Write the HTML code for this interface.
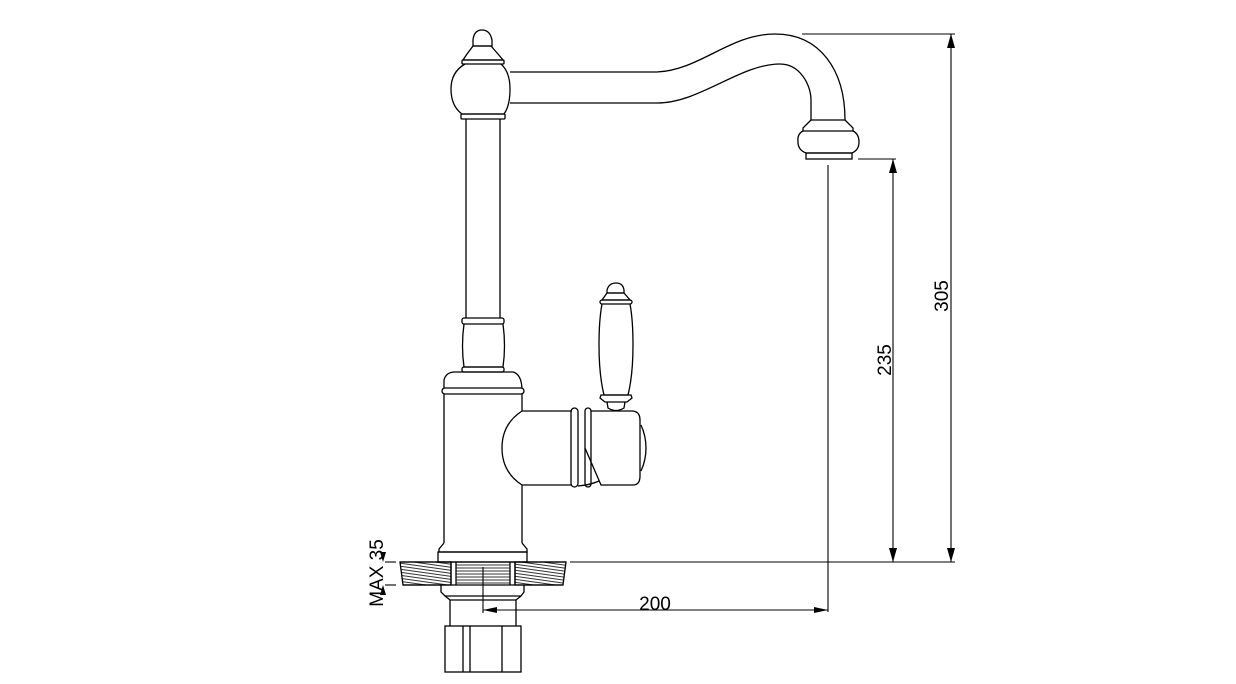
<!DOCTYPE html>
<html><head><meta charset="utf-8"><style>
html,body{margin:0;padding:0;background:#fff;}
svg{display:block;}
text{font-family:"Liberation Sans",Arial,sans-serif;font-size:19px;fill:#000;}
</style></head><body>
<svg width="1236" height="684" viewBox="0 0 1236 684" xmlns="http://www.w3.org/2000/svg">
<defs>
<pattern id="h" width="6" height="3" patternUnits="userSpaceOnUse" patternTransform="rotate(8)">
<line x1="0" y1="1" x2="6" y2="1" stroke="#000" stroke-width="0.8"/>
</pattern>
<pattern id="h2" width="6" height="3" patternUnits="userSpaceOnUse">
<line x1="0" y1="1" x2="6" y2="1" stroke="#000" stroke-width="0.8"/>
</pattern>
</defs>
<g fill="none" stroke="#000" stroke-width="1.3">
<!-- finial -->
<path d="M473,46 L473,40 Q474,30 482,30 Q490,30 492,40 L492,46 Z"/>
<path d="M473,46 L491,46 L498,54 L503,60 L463,60 L467,54 Z"/>
<rect x="462" y="60" width="42" height="4" rx="1"/>
<path d="M465,64 Q451,72 451,89 Q451,106 462,114 L504,114 Q510,106 510,89 Q510,72 501,64"/>
<rect x="461" y="114" width="44" height="5" rx="1"/>
<!-- spout -->
<path d="M510,72 L657,72 C700,70 730,34 775,34 C820,34 845,70 845,120"/>
<path d="M510,103 L657,103 C700,103 740,64 780,64 C800,64 811,85 811,100 L811,120"/>
<line x1="811" y1="120" x2="845" y2="120"/>
<path d="M811,120 L803,128 L803,131 L853,131 L853,128 L845,120"/>
<path d="M803,131 Q797,134 798,142 Q798,150 806,153 L852,153 Q859,150 859,142 Q859,134 853,131"/>
<rect x="806" y="153" width="46" height="6"/>
<!-- stem -->
<line x1="466" y1="119" x2="466" y2="318"/>
<line x1="500" y1="119" x2="500" y2="318"/>
<rect x="462" y="318" width="42" height="6" rx="2"/>
<path d="M464,324 Q461,346 464,367 L503,367 Q506,346 503,324"/>
<rect x="462" y="367" width="42" height="5" rx="2"/>
<path d="M444,388 L444,380 Q446,372 455,372 L513,372 Q521,374 522,388"/>
<rect x="442" y="388" width="82" height="6" rx="3"/>
<!-- body -->
<line x1="444" y1="394" x2="444" y2="543"/>
<line x1="522" y1="394" x2="522" y2="411"/>
<line x1="522" y1="485" x2="522" y2="543"/>
<path d="M444,543 L439,549 L439,552 L527,552 L527,549 L522,543"/>
<rect x="438" y="552" width="89" height="10"/>
<!-- handle arm -->
<path d="M522,411 Q502,424 502,448 Q502,472 522,485"/>
<line x1="522" y1="411" x2="572" y2="411"/>
<line x1="522" y1="485" x2="572" y2="485"/>
<rect x="571" y="408" width="7" height="79" rx="3.5"/>
<rect x="585" y="408" width="6" height="79" rx="3"/>
<path d="M578,486 Q590,485 599,481"/>
<path d="M591,411 L633,411 Q640,412 640,420 L640,476 Q640,485 633,485 L601,485 L585,448"/>
<path d="M641,425 Q646,436 646,448 Q646,460 641,471"/>
<!-- lever -->
<path d="M607,293 L607,290 Q609,283 616,283 Q623,283 624,290 L624,293 Z"/>
<path d="M607,293 L624,293 L630,300 L602,300 Z"/>
<rect x="600" y="300" width="32" height="4" rx="2"/>
<path d="M602,304 Q599,320 599,345 Q599,375 604,395 L628,395 Q633,375 633,345 Q633,320 630,304"/>
<path d="M601,395 L631,395 L632,398 L627,402 L605,402 L600,398 Z"/>
<path d="M607,402 L608,408 Q616,413 624,408 L625,402"/>
<!-- counter hatch -->
<path d="M400,562 L451,562 L451,585 L403,585 Z" fill="url(#h)"/>
<path d="M515,562 L566,562 L563,585 L515,585 Z" fill="url(#h)"/>
<rect x="456" y="563" width="54" height="21" fill="url(#h2)" stroke="none"/>
<line x1="451" y1="562" x2="451" y2="585"/>
<line x1="456" y1="562" x2="456" y2="585"/>
<line x1="510" y1="562" x2="510" y2="585"/>
<line x1="515" y1="562" x2="515" y2="585"/>
<line x1="400" y1="562" x2="566" y2="562"/>
<line x1="403" y1="585" x2="563" y2="585"/>
<!-- below -->
<path d="M441,585 L441,592 L445,596 L521,596 L524,592 L524,585"/>
<path d="M445,596 L450,600 L516,600 L521,596"/>
<line x1="450" y1="600" x2="450" y2="626"/>
<line x1="516" y1="600" x2="516" y2="626"/>
<rect x="445" y="626" width="76" height="46"/>
<line x1="463" y1="626" x2="463" y2="672"/>
<line x1="470" y1="626" x2="470" y2="672"/>
<line x1="502" y1="626" x2="502" y2="672"/>
</g>
<!-- dimensions -->
<g fill="none" stroke="#000" stroke-width="1.1">
<line x1="802" y1="34" x2="955" y2="34"/>
<line x1="951" y1="34" x2="951" y2="562"/>
<line x1="858" y1="159" x2="896" y2="159"/>
<line x1="893" y1="159" x2="893" y2="562"/>
<line x1="570" y1="562" x2="955" y2="562"/>
<line x1="828" y1="165" x2="828" y2="612"/>
<line x1="483" y1="567" x2="483" y2="613"/>
<line x1="483" y1="610" x2="828" y2="610"/>
<line x1="385" y1="562" x2="396" y2="562"/>
<line x1="385" y1="585" x2="396" y2="585"/>
</g>
<g fill="#000">
<polygon points="951,34 947,48 955,48"/>
<polygon points="951,562 947,548 955,548"/>
<polygon points="893,159 889,173 897,173"/>
<polygon points="893,562 889,548 897,548"/>
<polygon points="483,610 497,607 497,613"/>
<polygon points="828,610 814,607 814,613"/>
<polygon points="383,562 380,552 386,552"/>
<polygon points="383,585 380,595 386,595"/>
</g>
<text x="655" y="610" text-anchor="middle">200</text>
<text transform="translate(948,296) rotate(-90)" text-anchor="middle">305</text>
<text transform="translate(891,360) rotate(-90)" text-anchor="middle">235</text>
<text transform="translate(383,573) rotate(-90)" text-anchor="middle">MAX 35</text>
</svg>
</body></html>
